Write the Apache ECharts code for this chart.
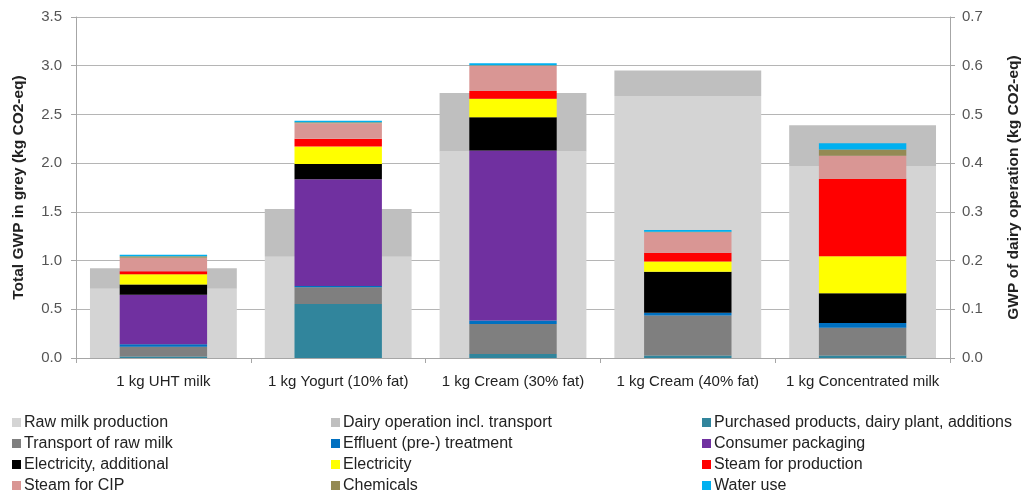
<!DOCTYPE html>
<html>
<head>
<meta charset="utf-8">
<script src="https://cdn.jsdelivr.net/npm/echarts@6/dist/echarts.min.js"></script>
<style>
html,body{margin:0;padding:0;background:#fff;}
#chart{width:1030px;height:495px;}
</style>
</head>
<body>
<div id="chart"></div>
<script>
const categories = ['1 kg UHT milk', '1 kg Yogurt (10% fat)', '1 kg Cream (30% fat)', '1 kg Cream (40% fat)', '1 kg Concentrated milk'];
const leftTicks = [0, 3.5, 0.5];
const rightTicks = [0, 0.7, 0.1];

// Total GWP (left axis, grey)
const rawMilk = [0.71, 1.04, 2.12, 2.69, 1.97];
const dairyOperation = [0.21, 0.49, 0.60, 0.26, 0.42];

// Dairy operation breakdown (right axis)
const purchased = [0.003, 0.111, 0.008, 0.005, 0.005];
const transport = [0.020, 0.034, 0.062, 0.082, 0.057];
const effluent = [0.005, 0.003, 0.007, 0.006, 0.010];
const packaging = [0.102, 0.219, 0.349, 0, 0];
const elecAdditional = [0.021, 0.031, 0.068, 0.084, 0.061];
const electricity = [0.021, 0.036, 0.038, 0.021, 0.076];
const steamProduction = [0.006, 0.016, 0.016, 0.018, 0.159];
const steamCIP = [0.028, 0.032, 0.052, 0.042, 0.047];
const chemicals = [0.003, 0.002, 0.001, 0.001, 0.013];
const waterUse = [0.003, 0.003, 0.004, 0.004, 0.013];

const greySeries = [
  ['Raw milk production', rawMilk, '#d4d4d4'],
  ['Dairy operation incl. transport', dairyOperation, '#bfbfbf']
];
const colorSeries = [
  ['Purchased products, dairy plant, additions', purchased, '#31859c'],
  ['Transport of raw milk', transport, '#7f7f7f'],
  ['Effluent (pre-) treatment', effluent, '#0070c0'],
  ['Consumer packaging', packaging, '#7030a0'],
  ['Electricity, additional', elecAdditional, '#000000'],
  ['Electricity', electricity, '#ffff00'],
  ['Steam for production', steamProduction, '#ff0000'],
  ['Steam for CIP', steamCIP, '#d99694'],
  ['Chemicals', chemicals, '#948a54'],
  ['Water use', waterUse, '#00b0f0']
];

const series = [];
greySeries.forEach(([name, data, color]) => {
  series.push({
    name, type: 'bar', data, stack: 'total', xAxisIndex: 0, yAxisIndex: 0,
    barWidth: '84%', itemStyle: { color }, z: 1
  });
});
colorSeries.forEach(([name, data, color]) => {
  series.push({
    name, type: 'bar', data, stack: 'dairy', xAxisIndex: 1, yAxisIndex: 1,
    barWidth: '50%', itemStyle: { color }, z: 3
  });
});

const col1 = ['Raw milk production', 'Transport of raw milk', 'Electricity, additional', 'Steam for CIP'];
const col2 = ['Dairy operation incl. transport', 'Effluent (pre-) treatment', 'Electricity', 'Chemicals'];
const col3 = ['Purchased products, dairy plant, additions', 'Consumer packaging', 'Steam for production', 'Water use'];
const fontFam = 'Liberation Sans, sans-serif';
function legend(names, left) {
  return {
    data: names, orient: 'vertical', left, top: 414, height: 120, padding: 0,
    itemWidth: 9, itemHeight: 9, itemGap: 4, icon: 'rect', selectedMode: false,
    textStyle: { fontSize: 16, color: '#222', fontFamily: fontFam, padding: [0, 0, 0, -2], lineHeight: 17 }
  };
}

const chart = echarts.init(document.getElementById('chart'));
chart.setOption({
  animation: false,
  textStyle: { fontFamily: fontFam },
  grid: { left: 76, right: 78, top: 17, bottom: 137 },
  legend: [legend(col1, 12), legend(col2, 331), legend(col3, 702)],
  xAxis: [
    {
      type: 'category', data: categories,
      axisLine: { lineStyle: { color: '#a6a6a6' } },
      axisTick: { show: true, length: 5, lineStyle: { color: '#a6a6a6' } },
      axisLabel: { interval: 0, fontSize: 15, color: '#222', margin: 16, fontFamily: fontFam }
    },
    { type: 'category', data: categories, show: false }
  ],
  yAxis: [
    {
      type: 'value', min: leftTicks[0], max: leftTicks[1], interval: leftTicks[2],
      name: 'Total GWP in grey (kg CO2-eq)', nameLocation: 'middle', nameGap: 49,
      nameTextStyle: { fontSize: 15.5, fontWeight: 'bold', color: '#222', fontFamily: fontFam },
      axisLine: { show: true, lineStyle: { color: '#a6a6a6' } },
      axisTick: { show: true, length: 5, lineStyle: { color: '#a6a6a6' } },
      axisLabel: { fontSize: 15, color: '#555', formatter: v => v.toFixed(1), margin: 14 },
      splitLine: { lineStyle: { color: '#b5b5b5' } }
    },
    {
      type: 'value', min: rightTicks[0], max: rightTicks[1], interval: rightTicks[2],
      name: 'GWP of dairy operation (kg CO2-eq)', nameLocation: 'middle', nameGap: 56, nameRotate: 90,
      nameTextStyle: { fontSize: 15.5, fontWeight: 'bold', color: '#222', fontFamily: fontFam },
      axisLine: { show: true, lineStyle: { color: '#a6a6a6' } },
      axisTick: { show: true, length: 5, lineStyle: { color: '#a6a6a6' } },
      axisLabel: { fontSize: 15, color: '#555', formatter: v => v.toFixed(1), margin: 12 },
      splitLine: { show: false }
    }
  ],
  series
});
</script>
</body>
</html>
